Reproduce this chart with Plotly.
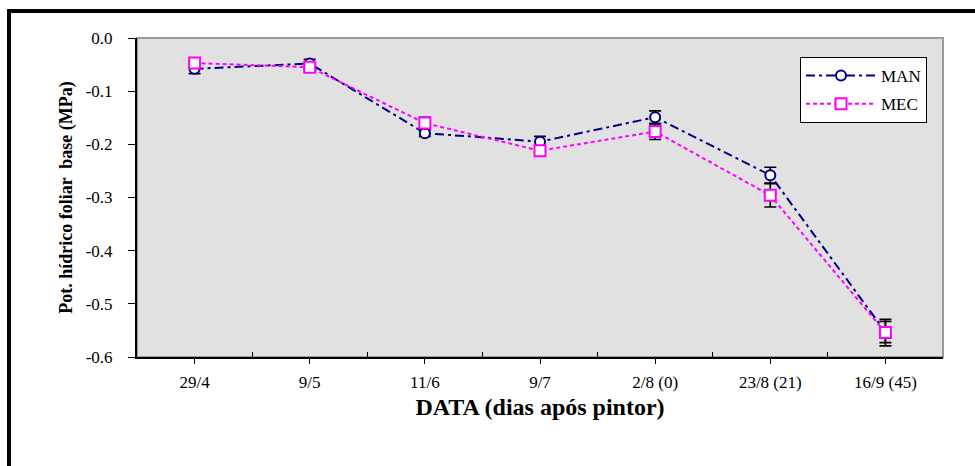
import plotly.graph_objects as go

categories = ["29/4", "9/5", "11/6", "9/7", "2/8 (0)", "23/8 (21)", "16/9 (45)"]
man_values = [-0.058, -0.048, -0.179, -0.195, -0.149, -0.258, -0.553]
man_errors = [0.009, 0.008, 0.006, 0.010, 0.012, 0.015, 0.020]
mec_values = [-0.047, -0.055, -0.160, -0.212, -0.176, -0.296, -0.554]
mec_errors = [0.004, 0.005, 0.011, 0.006, 0.015, 0.022, 0.025]
y_ticks = [0.0, -0.1, -0.2, -0.3, -0.4, -0.5, -0.6]
y_tick_labels = ["0.0", "-0.1", "-0.2", "-0.3", "-0.4", "-0.5", "-0.6"]

W, H = 975, 466
L, R, T, B = 137, 32, 38, 109
PW, PH = W - L - R, H - T - B

def px_x(px):
    return (px - L) / PW

def px_y(py):
    return 1 - (py - T) / PH

xs = list(range(len(categories)))
serif = "Liberation Serif, Times New Roman, serif"

fig = go.Figure()
fig.add_trace(go.Scatter(
    x=xs, y=man_values, name="MAN", mode="lines+markers", legendgroup="man",
    line=dict(color="#000080", width=2, dash="9px,4px,3px,4px"),
    marker=dict(symbol="circle", size=10,
                color="white", line=dict(color="#000080", width=2)),
    error_y=dict(type="data", array=man_errors, visible=True,
                 color="black", thickness=1.6, width=6),
))
fig.add_trace(go.Scatter(
    x=xs, y=mec_values, name="MEC", mode="lines+markers", legendgroup="mec",
    line=dict(color="#FF00FF", width=2, dash="4px,3px"),
    marker=dict(symbol="square", size=11,
                color="white", line=dict(color="#FF00FF", width=2)),
    error_y=dict(type="data", array=mec_errors, visible=True,
                 color="black", thickness=1.6, width=6),
))

shapes = [
    dict(type="rect", xref="paper", yref="paper", x0=0, y0=0, x1=1, y1=1,
         line=dict(color="#9a9a9a", width=2), layer="below"),
    dict(type="rect", xref="paper", yref="paper",
         x0=px_x(9), y0=px_y(490), x1=px_x(1000), y1=px_y(11),
         line=dict(color="black", width=4)),
]

fig.update_layout(
    width=W, height=H,
    margin=dict(l=L, r=R, t=T, b=B),
    paper_bgcolor="white",
    plot_bgcolor="#e1e1e1",
    font=dict(family=serif, color="black", size=17),
    showlegend=True,
    legend=dict(x=px_x(800), y=px_y(57), xanchor="left", yanchor="top",
                bgcolor="white", bordercolor="black", borderwidth=1,
                font=dict(family=serif, size=17, color="black"),
                itemwidth=70, traceorder="grouped", tracegroupgap=3),
    shapes=shapes,
    xaxis=dict(
        range=[-0.5, len(categories) - 0.5],
        tickvals=xs, ticktext=categories,
        ticks="outside", ticklen=5, tickcolor="black", tickwidth=1,
        minor=dict(tickvals=[i + 0.5 for i in xs[:-1]], ticks="inside",
                   ticklen=5, tickcolor="black", tickwidth=1, showgrid=False),
        showline=True, linecolor="black", linewidth=2,
        showgrid=False, zeroline=False,
        tickfont=dict(family=serif, size=17),
        ticklabelstandoff=4,
        title=dict(text="<b>DATA (dias após pintor)</b>",
                   font=dict(family=serif, size=24), standoff=7),
    ),
    yaxis=dict(
        range=[-0.6, 0.0],
        tickvals=y_ticks, ticktext=y_tick_labels,
        ticks="outside", ticklen=7, tickcolor="black", tickwidth=1,
        showline=True, linecolor="black", linewidth=2,
        showgrid=False, zeroline=False,
        tickfont=dict(family=serif, size=17),
        ticklabelstandoff=12,
        title=dict(text="<b>Pot. hídrico foliar  base (MPa)</b>",
                   font=dict(family=serif, size=18), standoff=8),
    ),
)

fig.write_html(
    "out.html",
    config={"displayModeBar": False},
    post_script="document.body.style.margin='0px';document.body.style.overflow='hidden';",
)
